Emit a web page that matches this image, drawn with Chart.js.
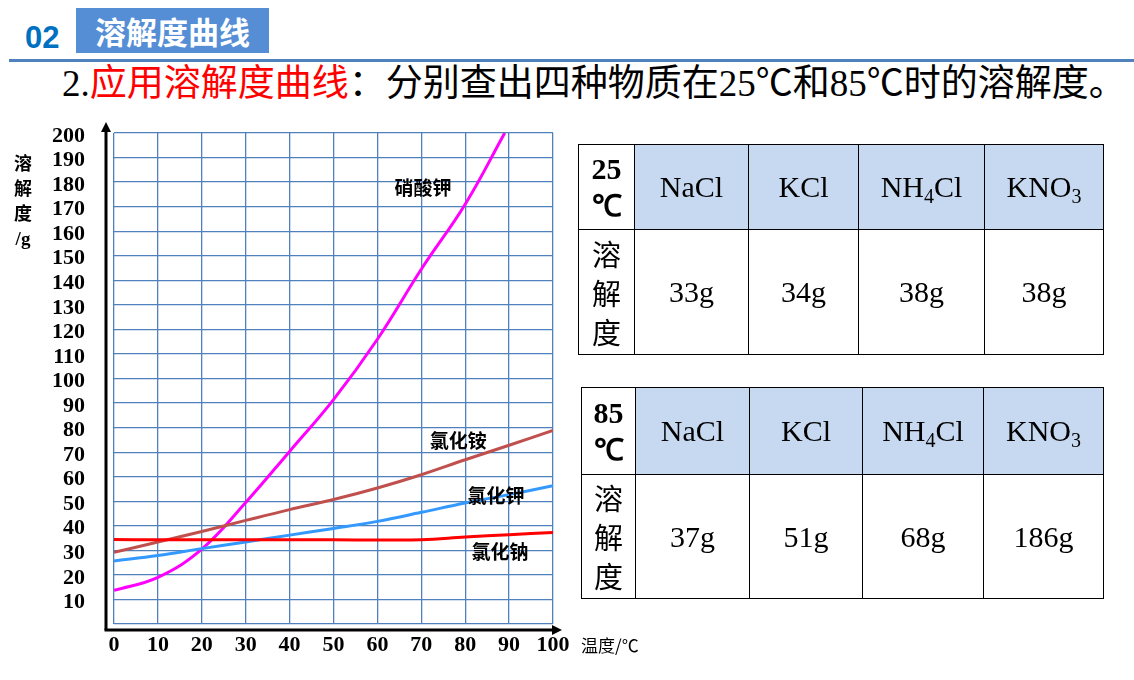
<!DOCTYPE html>
<html>
<head>
<meta charset="utf-8">
<script src="https://cdn.jsdelivr.net/npm/chart.js@4.4.1/dist/chart.umd.min.js"></script>
<style>
  html, body { margin:0; padding:0; background:#fff; }
  body { width:1134px; height:680px; position:relative; overflow:hidden; font-family:"Noto Sans CJK SC", sans-serif; }
  #num { position:absolute; left:25px; top:18px; font:bold 31px "Liberation Sans", Arial, sans-serif; color:#0070C0; line-height:40px; }
  #tag { position:absolute; left:76px; top:8px; width:193px; height:45px; background:#558ED5; color:#fff;
         font:bold 31px "Noto Sans CJK SC"; line-height:45px; text-align:center; }
  #rule { position:absolute; left:9px; top:59px; width:1125px; height:3px; background:#4F81BD; }
  #title { position:absolute; left:62px; top:63px; font-size:37px; line-height:42px; white-space:nowrap;
           font-family:"Liberation Serif","Noto Sans CJK SC",serif; color:#000; }
  #title .red { color:#FF0000; }
  #chartWrap { position:absolute; left:0; top:0; width:600px; height:680px; }
  #ytitle { position:absolute; left:12px; top:150px; width:22px; text-align:center; font:bold 18px "Noto Sans CJK SC"; line-height:25px; color:#000; }
  #ytitle .g { font-family:"Liberation Serif"; font-size:19px; }
  #xtitle { position:absolute; left:581px; top:632px; font:17px "Noto Sans CJK SC"; color:#000; white-space:nowrap; }
  table.sol { position:absolute; border-collapse:collapse; table-layout:fixed; font-family:"Liberation Serif", serif; font-size:30px; color:#000; }
  table.sol td { border:1.5px solid #000; text-align:center; vertical-align:middle; padding:0; }
  table.sol tr.head td { background:#C6D9F1; }
  table.sol tr.head td.temp { background:#fff; font-weight:bold; line-height:37px; }
  table.sol td.lbl { font-family:"Noto Sans CJK SC"; font-size:29px; line-height:39px; }
  table.sol sub { font-size:20px; vertical-align:-6px; line-height:0; }
</style>
</head>
<body>
<div id="num">02</div>
<div id="tag">溶解度曲线</div>
<div id="rule"></div>
<div id="title">2.<span class="red">应用溶解度曲线</span>：分别查出四种物质在25℃和85℃时的溶解度。</div>
<div id="chartWrap"><canvas id="c"></canvas></div>
<div id="ytitle">溶<br>解<br>度<br><span class="g">/g</span></div>
<div id="xtitle">温度/℃</div>
<table class="sol" id="t25"></table>
<table class="sol" id="t85"></table>
<script>
// ---- data ----
const temps = [0, 10, 20, 30, 40, 50, 60, 70, 80, 90, 100];
const kno3Temps = [0, 10, 20, 30, 40, 50, 60, 70, 80, 89];
const kno3  = [13.7, 19, 30.5, 49.5, 70.3, 91.4, 116, 144.5, 171, 200];
const nh4cl = [29.2, 33.4, 37.7, 42.2, 46.6, 50.7, 55.4, 60.8, 66.9, 72.8, 78.9];
const kcl   = [25.7, 27.9, 30.7, 33.4, 36.2, 38.9, 41.8, 45.5, 49.3, 52.7, 56.3];
const nacl  = [34.4, 34.3, 34.3, 34.3, 34.3, 34.3, 34.2, 34.3, 35.4, 36.4, 37.3];
const seriesNames = ['硝酸钾', '氯化铵', '氯化钾', '氯化钠'];
const nameAtTemp = [70.4, 78.4, 87, 87.9];
const nameAtSol  = [177.7, 74.6, 52.4, 29.5];

const substances = ['NaCl', 'KCl', 'NH<sub>4</sub>Cl', 'KNO<sub>3</sub>'];
const tableTemps = ['25', '85'];
const sol25 = ['33g', '34g', '38g', '38g'];
const sol85 = ['37g', '51g', '68g', '186g'];

// ---- tables ----
function buildTable(id, temp, values, box, cols, rows) {
  const t = document.getElementById(id);
  t.style.left = box[0] + 'px'; t.style.top = box[1] + 'px';
  t.style.width = box[2] + 'px'; t.style.height = box[3] + 'px';
  let html = '<colgroup>' + cols.map(w => '<col style="width:' + w + 'px">').join('') + '</colgroup>';
  html += '<tr class="head" style="height:' + rows[0] + 'px"><td class="temp">' + temp + '<br>℃</td>' +
          substances.map(s => '<td>' + s + '</td>').join('') + '</tr>';
  html += '<tr style="height:' + rows[1] + 'px"><td class="lbl">溶<br>解<br>度</td>' +
          values.map(v => '<td>' + v + '</td>').join('') + '</tr>';
  t.innerHTML = html;
}
buildTable('t25', tableTemps[0], sol25, [578, 144, 525, 210], [56, 114, 110, 126, 119], [85, 125]);
buildTable('t85', tableTemps[1], sol85, [581, 387, 522, 211], [54, 114, 113, 121, 120], [87, 124]);

// ---- chart ----
const pts = (xs, ys) => ys.map((y, i) => ({ x: xs[i], y: y }));

const arrowAxes = {
  id: 'arrowAxes',
  afterDraw(chart) {
    const { ctx, chartArea: a } = chart;
    const x0 = a.left - 8, y0 = a.bottom + 6;
    ctx.save();
    ctx.strokeStyle = '#000'; ctx.fillStyle = '#000'; ctx.lineWidth = 3;
    ctx.beginPath(); ctx.moveTo(x0, y0); ctx.lineTo(x0, a.top - 4); ctx.stroke();
    ctx.beginPath(); ctx.moveTo(x0 - 1.5, y0); ctx.lineTo(a.right + 2, y0); ctx.stroke();
    ctx.beginPath(); ctx.moveTo(x0, a.top - 11); ctx.lineTo(x0 - 5, a.top - 1); ctx.lineTo(x0 + 5, a.top - 1); ctx.closePath(); ctx.fill();
    ctx.beginPath(); ctx.moveTo(a.right + 9, y0); ctx.lineTo(a.right - 1, y0 - 5); ctx.lineTo(a.right - 1, y0 + 5); ctx.closePath(); ctx.fill();
    // series names
    const xs = chart.scales.x, ys = chart.scales.y;
    ctx.font = 'bold 19px "Noto Sans CJK SC"';
    ctx.textAlign = 'center'; ctx.textBaseline = 'middle';
    seriesNames.forEach((n, i) => {
      ctx.fillText(n, xs.getPixelForValue(nameAtTemp[i]), ys.getPixelForValue(nameAtSol[i]));
    });
    ctx.restore();
  }
};

const common = { fill: false, pointRadius: 0, borderWidth: 3, tension: 0.4 };

new Chart(document.getElementById('c'), {
  type: 'line',
  data: {
    datasets: [
      Object.assign({ label: '氯化钠', data: pts(temps, nacl), borderColor: '#FF0000' }, common),
      Object.assign({ label: '氯化钾', data: pts(temps, kcl), borderColor: '#3399FF' }, common),
      Object.assign({ label: '氯化铵', data: pts(temps, nh4cl), borderColor: '#C0504D' }, common),
      Object.assign({ label: '硝酸钾', data: pts(kno3Temps, kno3), borderColor: '#FF00FF' }, common)
    ]
  },
  options: {
    responsive: true,
    maintainAspectRatio: false,
    animation: false,
    layout: { padding: { left: 0, top: 133, right: 47, bottom: 0 } },
    plugins: { legend: { display: false }, tooltip: { enabled: false } },
    scales: {
      x: {
        type: 'linear', min: 0, max: 100,
        afterFit(s) { s.height = 56; },
        border: { display: false },
        grid: { color: '#4F81BD', lineWidth: 1.3, drawTicks: false },
        ticks: { stepSize: 10, autoSkip: false, maxRotation: 0, padding: 8, color: '#000', font: { family: 'Liberation Serif', size: 22, weight: 'bold' } }
      },
      y: {
        type: 'linear', min: 0, max: 200,
        afterFit(s) { s.width = 114; },
        border: { display: false },
        grid: { color: '#4F81BD', lineWidth: 1.3, drawTicks: false },
        ticks: { stepSize: 10, autoSkip: false, padding: 29, labelOffset: 3, color: '#000',
                 font: { family: 'Liberation Serif', size: 22, weight: 'bold' },
                 callback: v => (v === 0 ? '' : v) }
      }
    }
  },
  plugins: [arrowAxes]
});
</script>
</body>
</html>
